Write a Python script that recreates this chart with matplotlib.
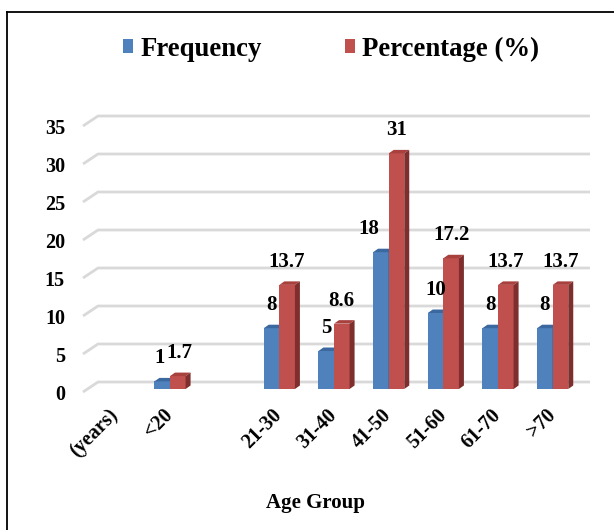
import numpy as np
import matplotlib
matplotlib.use("Agg")
import matplotlib.pyplot as plt
from matplotlib.patches import Polygon, Patch
from matplotlib.lines import Line2D
from matplotlib.transforms import ScaledTranslation

age_groups = ["(years)", "<20", "", "21-30", "31-40", "41-50", "51-60", "61-70", ">70"]
frequency = [np.nan, 1, np.nan, 8, 5, 18, 10, 8, 8]
percentage = [np.nan, 1.7, np.nan, 13.7, 8.6, 31, 17.2, 13.7, 13.7]
y_ticks = [0, 5, 10, 15, 20, 25, 30, 35]

BLUE = ("#4F81BD", "#3C68A0", "#2E5384")    # front, top, side
RED = ("#C0504D", "#A8413E", "#7E2E2C")
GRID = "#D9D9D9"
FONT = "Liberation Serif"

W, H = 614, 530
fig = plt.figure(figsize=(W / 100, H / 100), dpi=100)
fig.patch.set_facecolor("white")

# plot plane: x slots -0.5..8.5, value 0 at y=389px, 7.6 px per unit
ymax = 37
ax = fig.add_axes([88 / W, (H - 389) / H, 492 / W, ymax * 7.6 / H])
ax.set_xlim(-0.5, len(age_groups) - 0.5)
ax.set_ylim(0, ymax)
ax.set_facecolor("none")
for s in ax.spines.values():
    s.set_visible(False)


def shifted(x, y, dx, dy):
    """data point moved by (dx, dy) pixels"""
    px, py = ax.transData.transform((x, y))
    return ax.transData.inverted().transform((px + dx, py + dy))


# back wall gridlines with slanted floor edge on the left
x_left, x_right = -0.5, len(age_groups) - 0.5
for v in y_ticks:
    p_front = shifted(x_left, v, -5, -3)
    p_back = shifted(x_left, v, 10, 7)
    p_end = shifted(x_right, v, 10, 7)
    ax.plot([p_front[0], p_back[0], p_end[0]], [p_front[1], p_back[1], p_end[1]],
            color=GRID, lw=2, zorder=1, clip_on=False, solid_capstyle="butt")

bw = 0.285
depth = (5, 3.5)


def bar3d(x0, v, cols, z):
    x1 = x0 + bw
    ax.add_patch(Polygon([(x0, 0), (x1, 0), (x1, v), (x0, v)], closed=True,
                         facecolor=cols[0], edgecolor="none", zorder=z))
    top = [(x0, v), (x1, v), shifted(x1, v, *depth), shifted(x0, v, *depth)]
    ax.add_patch(Polygon(top, closed=True, facecolor=cols[1], edgecolor="none",
                         zorder=z, clip_on=False))
    side = [(x1, 0), (x1, v), shifted(x1, v, *depth), shifted(x1, 0, *depth)]
    ax.add_patch(Polygon(side, closed=True, facecolor=cols[2], edgecolor="none",
                         zorder=z, clip_on=False))


label_kw = dict(textcoords="offset pixels", ha="center", va="center",
                fontsize=15, fontweight="bold", family=FONT, color="black", zorder=6)
# small sideways nudges so labels clear the neighbouring bar / label
blue_nudge = {1: -3, 5: -12}
red_nudge = {1: 2}

for i, (f, p) in enumerate(zip(frequency, percentage)):
    if not np.isnan(f):
        bar3d(i - bw, f, BLUE, 3)
        ax.annotate(f"{f:g}", xy=(i - bw / 2, f), xytext=(blue_nudge.get(i, 0), 23), **label_kw)
    if not np.isnan(p):
        bar3d(i, p, RED, 4)
        ax.annotate(f"{p:g}", xy=(i + bw / 2, p), xytext=(red_nudge.get(i, 0), 23), **label_kw)

# ticks
ax.set_yticks(y_ticks)
ax.set_yticklabels([str(t) for t in y_ticks], fontsize=14.5, fontweight="bold", family=FONT)
ax.tick_params(axis="y", length=0, pad=16.6)
for lab in ax.get_yticklabels():
    lab.set_transform(lab.get_transform() + ScaledTranslation(0, -3 / 100, fig.dpi_scale_trans))

ax.set_xticks(range(len(age_groups)))
ax.set_xticklabels(age_groups, rotation=45, ha="right", fontsize=14.5,
                   fontweight="bold", family=FONT)
ax.tick_params(axis="x", length=0, pad=16.6)
for lab in ax.get_xticklabels():
    lab.set_transform(lab.get_transform() + ScaledTranslation(7 / 100, 7 / 100, fig.dpi_scale_trans))

fig.text(315 / W, 1 - 503 / H, "Age Group", ha="center", va="center",
         fontsize=15, fontweight="bold", family=FONT)

# legend
handles = [Patch(facecolor=BLUE[0], edgecolor="none"), Patch(facecolor=RED[0], edgecolor="none")]
fig.legend(handles, ["Frequency", "Percentage (%)"], loc="center left",
           bbox_to_anchor=(123 / W, 1 - 49 / H), ncol=2, frameon=False,
           prop=dict(family=FONT, weight="bold", size=19.3),
           handlelength=0.38, handleheight=0.38, handletextpad=0.27,
           columnspacing=3.1, borderpad=0, borderaxespad=0)

# chart border (left and top edges)
fig.add_artist(Line2D([7 / W, 7 / W], [0, 1 - 12 / H], transform=fig.transFigure,
                      color="black", lw=1.3))
fig.add_artist(Line2D([7 / W, 1], [1 - 12 / H, 1 - 12 / H], transform=fig.transFigure,
                      color="black", lw=1.3))

fig.savefig("out.png", dpi=100)
